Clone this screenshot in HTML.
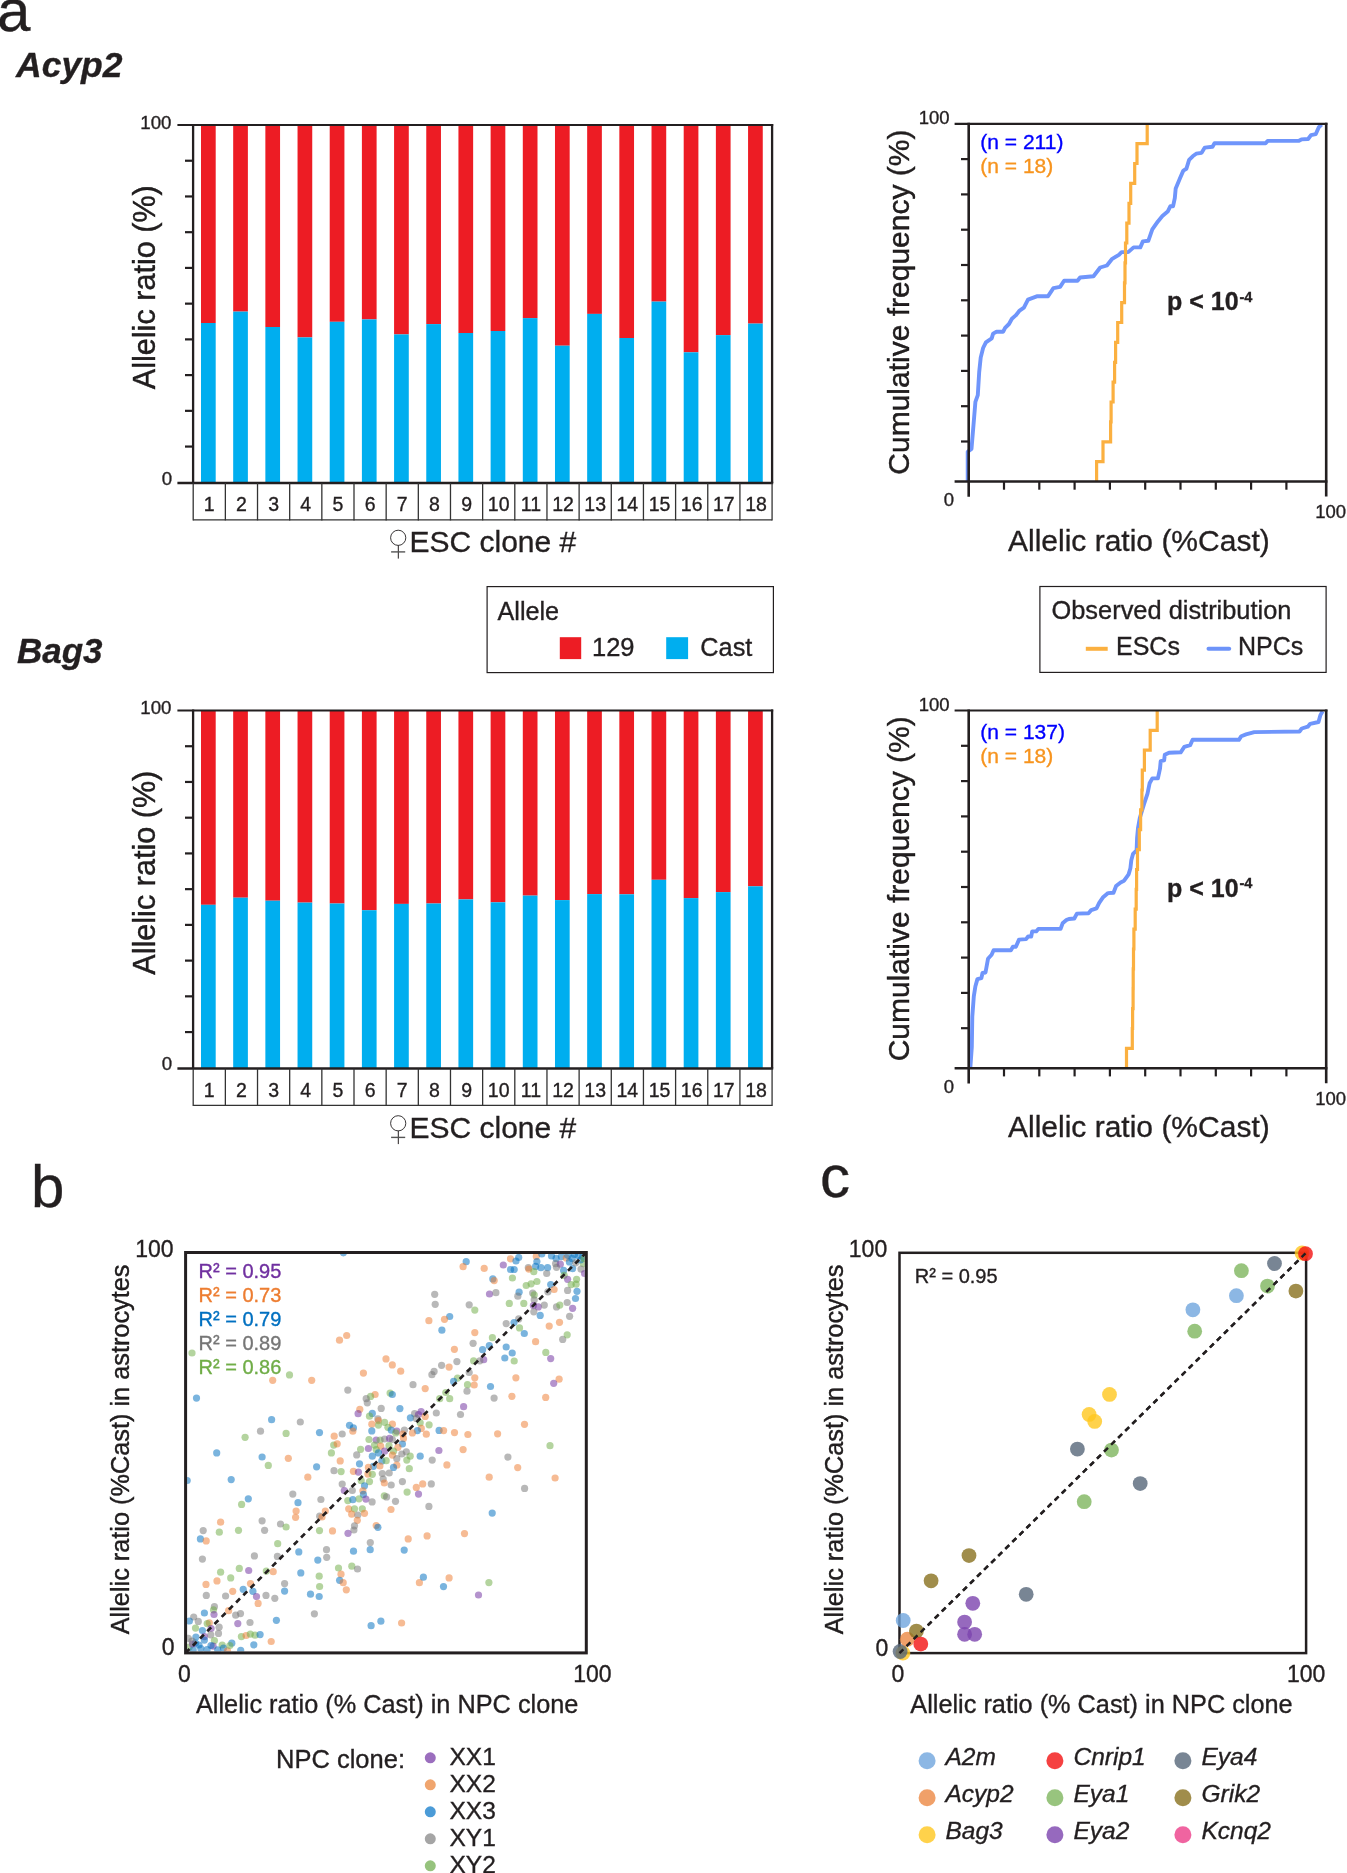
<!DOCTYPE html>
<html><head><meta charset="utf-8"><title>Figure</title>
<style>
html,body{margin:0;padding:0;background:#fff;width:1347px;height:1873px;overflow:hidden;}
svg{display:block;will-change:transform;}
text{font-family:"Liberation Sans", sans-serif;stroke:currentColor;stroke-width:0.35px;}
</style></head>
<body><svg width="1347" height="1873" viewBox="0 0 1347 1873">
<rect width="1347" height="1873" fill="#fff"/>
<text x="-3.00" y="31.00" font-size="60" fill="#231F20" color="#231F20" text-anchor="start" font-weight="normal" font-style="normal" >a</text>
<text x="16.00" y="77.00" font-size="35.5" fill="#231F20" color="#231F20" text-anchor="start" font-weight="bold" font-style="italic" >Acyp2</text>
<text x="17.00" y="662.80" font-size="35" fill="#231F20" color="#231F20" text-anchor="start" font-weight="bold" font-style="italic" >Bag3</text>
<rect x="201.00" y="125.00" width="14.7" height="198.00" fill="#ED1C24"/>
<rect x="201.00" y="323.00" width="14.7" height="160.00" fill="#00AEEF"/>
<rect x="233.18" y="125.00" width="14.7" height="186.60" fill="#ED1C24"/>
<rect x="233.18" y="311.60" width="14.7" height="171.40" fill="#00AEEF"/>
<rect x="265.36" y="125.00" width="14.7" height="202.00" fill="#ED1C24"/>
<rect x="265.36" y="327.00" width="14.7" height="156.00" fill="#00AEEF"/>
<rect x="297.54" y="125.00" width="14.7" height="212.40" fill="#ED1C24"/>
<rect x="297.54" y="337.40" width="14.7" height="145.60" fill="#00AEEF"/>
<rect x="329.72" y="125.00" width="14.7" height="196.80" fill="#ED1C24"/>
<rect x="329.72" y="321.80" width="14.7" height="161.20" fill="#00AEEF"/>
<rect x="361.90" y="125.00" width="14.7" height="194.40" fill="#ED1C24"/>
<rect x="361.90" y="319.40" width="14.7" height="163.60" fill="#00AEEF"/>
<rect x="394.08" y="125.00" width="14.7" height="209.40" fill="#ED1C24"/>
<rect x="394.08" y="334.40" width="14.7" height="148.60" fill="#00AEEF"/>
<rect x="426.26" y="125.00" width="14.7" height="199.10" fill="#ED1C24"/>
<rect x="426.26" y="324.10" width="14.7" height="158.90" fill="#00AEEF"/>
<rect x="458.44" y="125.00" width="14.7" height="208.00" fill="#ED1C24"/>
<rect x="458.44" y="333.00" width="14.7" height="150.00" fill="#00AEEF"/>
<rect x="490.62" y="125.00" width="14.7" height="206.00" fill="#ED1C24"/>
<rect x="490.62" y="331.00" width="14.7" height="152.00" fill="#00AEEF"/>
<rect x="522.80" y="125.00" width="14.7" height="193.10" fill="#ED1C24"/>
<rect x="522.80" y="318.10" width="14.7" height="164.90" fill="#00AEEF"/>
<rect x="554.98" y="125.00" width="14.7" height="220.70" fill="#ED1C24"/>
<rect x="554.98" y="345.70" width="14.7" height="137.30" fill="#00AEEF"/>
<rect x="587.16" y="125.00" width="14.7" height="188.90" fill="#ED1C24"/>
<rect x="587.16" y="313.90" width="14.7" height="169.10" fill="#00AEEF"/>
<rect x="619.34" y="125.00" width="14.7" height="213.00" fill="#ED1C24"/>
<rect x="619.34" y="338.00" width="14.7" height="145.00" fill="#00AEEF"/>
<rect x="651.52" y="125.00" width="14.7" height="176.60" fill="#ED1C24"/>
<rect x="651.52" y="301.60" width="14.7" height="181.40" fill="#00AEEF"/>
<rect x="683.70" y="125.00" width="14.7" height="227.30" fill="#ED1C24"/>
<rect x="683.70" y="352.30" width="14.7" height="130.70" fill="#00AEEF"/>
<rect x="715.88" y="125.00" width="14.7" height="210.10" fill="#ED1C24"/>
<rect x="715.88" y="335.10" width="14.7" height="147.90" fill="#00AEEF"/>
<rect x="748.06" y="125.00" width="14.7" height="198.60" fill="#ED1C24"/>
<rect x="748.06" y="323.60" width="14.7" height="159.40" fill="#00AEEF"/>
<line x1="177.40" y1="125.00" x2="773.20" y2="125.00" stroke="#231F20" stroke-width="2.2" />
<line x1="177.40" y1="483.00" x2="773.20" y2="483.00" stroke="#231F20" stroke-width="2.5" />
<line x1="193.10" y1="123.90" x2="193.10" y2="483.00" stroke="#231F20" stroke-width="2.3" />
<line x1="772.10" y1="123.90" x2="772.10" y2="483.00" stroke="#231F20" stroke-width="2.3" />
<line x1="185.00" y1="160.73" x2="193.10" y2="160.73" stroke="#231F20" stroke-width="2.2" />
<line x1="185.00" y1="196.46" x2="193.10" y2="196.46" stroke="#231F20" stroke-width="2.2" />
<line x1="185.00" y1="232.19" x2="193.10" y2="232.19" stroke="#231F20" stroke-width="2.2" />
<line x1="185.00" y1="267.92" x2="193.10" y2="267.92" stroke="#231F20" stroke-width="2.2" />
<line x1="185.00" y1="303.65" x2="193.10" y2="303.65" stroke="#231F20" stroke-width="2.2" />
<line x1="185.00" y1="339.38" x2="193.10" y2="339.38" stroke="#231F20" stroke-width="2.2" />
<line x1="185.00" y1="375.11" x2="193.10" y2="375.11" stroke="#231F20" stroke-width="2.2" />
<line x1="185.00" y1="410.84" x2="193.10" y2="410.84" stroke="#231F20" stroke-width="2.2" />
<line x1="185.00" y1="446.57" x2="193.10" y2="446.57" stroke="#231F20" stroke-width="2.2" />
<line x1="193.20" y1="519.80" x2="772.10" y2="519.80" stroke="#333" stroke-width="1.3" />
<line x1="193.20" y1="483.00" x2="193.20" y2="520.40" stroke="#333" stroke-width="1.3" />
<line x1="225.36" y1="483.00" x2="225.36" y2="520.40" stroke="#333" stroke-width="1.3" />
<line x1="257.52" y1="483.00" x2="257.52" y2="520.40" stroke="#333" stroke-width="1.3" />
<line x1="289.68" y1="483.00" x2="289.68" y2="520.40" stroke="#333" stroke-width="1.3" />
<line x1="321.84" y1="483.00" x2="321.84" y2="520.40" stroke="#333" stroke-width="1.3" />
<line x1="354.00" y1="483.00" x2="354.00" y2="520.40" stroke="#333" stroke-width="1.3" />
<line x1="386.16" y1="483.00" x2="386.16" y2="520.40" stroke="#333" stroke-width="1.3" />
<line x1="418.32" y1="483.00" x2="418.32" y2="520.40" stroke="#333" stroke-width="1.3" />
<line x1="450.48" y1="483.00" x2="450.48" y2="520.40" stroke="#333" stroke-width="1.3" />
<line x1="482.64" y1="483.00" x2="482.64" y2="520.40" stroke="#333" stroke-width="1.3" />
<line x1="514.80" y1="483.00" x2="514.80" y2="520.40" stroke="#333" stroke-width="1.3" />
<line x1="546.96" y1="483.00" x2="546.96" y2="520.40" stroke="#333" stroke-width="1.3" />
<line x1="579.12" y1="483.00" x2="579.12" y2="520.40" stroke="#333" stroke-width="1.3" />
<line x1="611.28" y1="483.00" x2="611.28" y2="520.40" stroke="#333" stroke-width="1.3" />
<line x1="643.44" y1="483.00" x2="643.44" y2="520.40" stroke="#333" stroke-width="1.3" />
<line x1="675.60" y1="483.00" x2="675.60" y2="520.40" stroke="#333" stroke-width="1.3" />
<line x1="707.76" y1="483.00" x2="707.76" y2="520.40" stroke="#333" stroke-width="1.3" />
<line x1="739.92" y1="483.00" x2="739.92" y2="520.40" stroke="#333" stroke-width="1.3" />
<line x1="772.08" y1="483.00" x2="772.08" y2="520.40" stroke="#333" stroke-width="1.3" />
<text x="209.28" y="511.30" font-size="19.5" fill="#231F20" color="#231F20" text-anchor="middle" font-weight="normal" font-style="normal" >1</text>
<text x="241.44" y="511.30" font-size="19.5" fill="#231F20" color="#231F20" text-anchor="middle" font-weight="normal" font-style="normal" >2</text>
<text x="273.60" y="511.30" font-size="19.5" fill="#231F20" color="#231F20" text-anchor="middle" font-weight="normal" font-style="normal" >3</text>
<text x="305.76" y="511.30" font-size="19.5" fill="#231F20" color="#231F20" text-anchor="middle" font-weight="normal" font-style="normal" >4</text>
<text x="337.92" y="511.30" font-size="19.5" fill="#231F20" color="#231F20" text-anchor="middle" font-weight="normal" font-style="normal" >5</text>
<text x="370.08" y="511.30" font-size="19.5" fill="#231F20" color="#231F20" text-anchor="middle" font-weight="normal" font-style="normal" >6</text>
<text x="402.24" y="511.30" font-size="19.5" fill="#231F20" color="#231F20" text-anchor="middle" font-weight="normal" font-style="normal" >7</text>
<text x="434.40" y="511.30" font-size="19.5" fill="#231F20" color="#231F20" text-anchor="middle" font-weight="normal" font-style="normal" >8</text>
<text x="466.56" y="511.30" font-size="19.5" fill="#231F20" color="#231F20" text-anchor="middle" font-weight="normal" font-style="normal" >9</text>
<text x="498.72" y="511.30" font-size="19.5" fill="#231F20" color="#231F20" text-anchor="middle" font-weight="normal" font-style="normal" >10</text>
<text x="530.88" y="511.30" font-size="19.5" fill="#231F20" color="#231F20" text-anchor="middle" font-weight="normal" font-style="normal" >11</text>
<text x="563.04" y="511.30" font-size="19.5" fill="#231F20" color="#231F20" text-anchor="middle" font-weight="normal" font-style="normal" >12</text>
<text x="595.20" y="511.30" font-size="19.5" fill="#231F20" color="#231F20" text-anchor="middle" font-weight="normal" font-style="normal" >13</text>
<text x="627.36" y="511.30" font-size="19.5" fill="#231F20" color="#231F20" text-anchor="middle" font-weight="normal" font-style="normal" >14</text>
<text x="659.52" y="511.30" font-size="19.5" fill="#231F20" color="#231F20" text-anchor="middle" font-weight="normal" font-style="normal" >15</text>
<text x="691.68" y="511.30" font-size="19.5" fill="#231F20" color="#231F20" text-anchor="middle" font-weight="normal" font-style="normal" >16</text>
<text x="723.84" y="511.30" font-size="19.5" fill="#231F20" color="#231F20" text-anchor="middle" font-weight="normal" font-style="normal" >17</text>
<text x="756.00" y="511.30" font-size="19.5" fill="#231F20" color="#231F20" text-anchor="middle" font-weight="normal" font-style="normal" >18</text>
<text x="171.50" y="128.60" font-size="18.7" fill="#231F20" color="#231F20" text-anchor="end" font-weight="normal" font-style="normal" >100</text>
<text x="172.20" y="484.60" font-size="18.7" fill="#231F20" color="#231F20" text-anchor="end" font-weight="normal" font-style="normal" >0</text>
<text transform="translate(155,287.20) rotate(-90)" x="0" y="0" font-size="30.6" fill="#231F20" text-anchor="middle">Allelic ratio (%)</text>
<circle cx="398.2" cy="537.80" r="7.6" fill="none" stroke="#231F20" stroke-width="0.9"/>
<line x1="398.30" y1="545.30" x2="398.30" y2="558.60" stroke="#231F20" stroke-width="1.0" />
<line x1="391.10" y1="551.90" x2="405.20" y2="551.90" stroke="#555" stroke-width="1.4" />
<text x="409.50" y="552.30" font-size="30" fill="#231F20" color="#231F20" text-anchor="start" font-weight="normal" font-style="normal" >ESC clone #</text>
<rect x="201.00" y="710.50" width="14.7" height="194.30" fill="#ED1C24"/>
<rect x="201.00" y="904.80" width="14.7" height="163.70" fill="#00AEEF"/>
<rect x="233.18" y="710.50" width="14.7" height="187.20" fill="#ED1C24"/>
<rect x="233.18" y="897.70" width="14.7" height="170.80" fill="#00AEEF"/>
<rect x="265.36" y="710.50" width="14.7" height="190.20" fill="#ED1C24"/>
<rect x="265.36" y="900.70" width="14.7" height="167.80" fill="#00AEEF"/>
<rect x="297.54" y="710.50" width="14.7" height="192.10" fill="#ED1C24"/>
<rect x="297.54" y="902.60" width="14.7" height="165.90" fill="#00AEEF"/>
<rect x="329.72" y="710.50" width="14.7" height="193.00" fill="#ED1C24"/>
<rect x="329.72" y="903.50" width="14.7" height="165.00" fill="#00AEEF"/>
<rect x="361.90" y="710.50" width="14.7" height="199.70" fill="#ED1C24"/>
<rect x="361.90" y="910.20" width="14.7" height="158.30" fill="#00AEEF"/>
<rect x="394.08" y="710.50" width="14.7" height="193.40" fill="#ED1C24"/>
<rect x="394.08" y="903.90" width="14.7" height="164.60" fill="#00AEEF"/>
<rect x="426.26" y="710.50" width="14.7" height="193.00" fill="#ED1C24"/>
<rect x="426.26" y="903.50" width="14.7" height="165.00" fill="#00AEEF"/>
<rect x="458.44" y="710.50" width="14.7" height="188.90" fill="#ED1C24"/>
<rect x="458.44" y="899.40" width="14.7" height="169.10" fill="#00AEEF"/>
<rect x="490.62" y="710.50" width="14.7" height="191.80" fill="#ED1C24"/>
<rect x="490.62" y="902.30" width="14.7" height="166.20" fill="#00AEEF"/>
<rect x="522.80" y="710.50" width="14.7" height="185.10" fill="#ED1C24"/>
<rect x="522.80" y="895.60" width="14.7" height="172.90" fill="#00AEEF"/>
<rect x="554.98" y="710.50" width="14.7" height="189.60" fill="#ED1C24"/>
<rect x="554.98" y="900.10" width="14.7" height="168.40" fill="#00AEEF"/>
<rect x="587.16" y="710.50" width="14.7" height="183.60" fill="#ED1C24"/>
<rect x="587.16" y="894.10" width="14.7" height="174.40" fill="#00AEEF"/>
<rect x="619.34" y="710.50" width="14.7" height="183.80" fill="#ED1C24"/>
<rect x="619.34" y="894.30" width="14.7" height="174.20" fill="#00AEEF"/>
<rect x="651.52" y="710.50" width="14.7" height="169.30" fill="#ED1C24"/>
<rect x="651.52" y="879.80" width="14.7" height="188.70" fill="#00AEEF"/>
<rect x="683.70" y="710.50" width="14.7" height="187.60" fill="#ED1C24"/>
<rect x="683.70" y="898.10" width="14.7" height="170.40" fill="#00AEEF"/>
<rect x="715.88" y="710.50" width="14.7" height="181.60" fill="#ED1C24"/>
<rect x="715.88" y="892.10" width="14.7" height="176.40" fill="#00AEEF"/>
<rect x="748.06" y="710.50" width="14.7" height="175.80" fill="#ED1C24"/>
<rect x="748.06" y="886.30" width="14.7" height="182.20" fill="#00AEEF"/>
<line x1="177.40" y1="710.50" x2="773.20" y2="710.50" stroke="#231F20" stroke-width="2.2" />
<line x1="177.40" y1="1068.50" x2="773.20" y2="1068.50" stroke="#231F20" stroke-width="2.5" />
<line x1="193.10" y1="709.40" x2="193.10" y2="1068.50" stroke="#231F20" stroke-width="2.3" />
<line x1="772.10" y1="709.40" x2="772.10" y2="1068.50" stroke="#231F20" stroke-width="2.3" />
<line x1="185.00" y1="746.23" x2="193.10" y2="746.23" stroke="#231F20" stroke-width="2.2" />
<line x1="185.00" y1="781.96" x2="193.10" y2="781.96" stroke="#231F20" stroke-width="2.2" />
<line x1="185.00" y1="817.69" x2="193.10" y2="817.69" stroke="#231F20" stroke-width="2.2" />
<line x1="185.00" y1="853.42" x2="193.10" y2="853.42" stroke="#231F20" stroke-width="2.2" />
<line x1="185.00" y1="889.15" x2="193.10" y2="889.15" stroke="#231F20" stroke-width="2.2" />
<line x1="185.00" y1="924.88" x2="193.10" y2="924.88" stroke="#231F20" stroke-width="2.2" />
<line x1="185.00" y1="960.61" x2="193.10" y2="960.61" stroke="#231F20" stroke-width="2.2" />
<line x1="185.00" y1="996.34" x2="193.10" y2="996.34" stroke="#231F20" stroke-width="2.2" />
<line x1="185.00" y1="1032.07" x2="193.10" y2="1032.07" stroke="#231F20" stroke-width="2.2" />
<line x1="193.20" y1="1105.30" x2="772.10" y2="1105.30" stroke="#333" stroke-width="1.3" />
<line x1="193.20" y1="1068.50" x2="193.20" y2="1105.90" stroke="#333" stroke-width="1.3" />
<line x1="225.36" y1="1068.50" x2="225.36" y2="1105.90" stroke="#333" stroke-width="1.3" />
<line x1="257.52" y1="1068.50" x2="257.52" y2="1105.90" stroke="#333" stroke-width="1.3" />
<line x1="289.68" y1="1068.50" x2="289.68" y2="1105.90" stroke="#333" stroke-width="1.3" />
<line x1="321.84" y1="1068.50" x2="321.84" y2="1105.90" stroke="#333" stroke-width="1.3" />
<line x1="354.00" y1="1068.50" x2="354.00" y2="1105.90" stroke="#333" stroke-width="1.3" />
<line x1="386.16" y1="1068.50" x2="386.16" y2="1105.90" stroke="#333" stroke-width="1.3" />
<line x1="418.32" y1="1068.50" x2="418.32" y2="1105.90" stroke="#333" stroke-width="1.3" />
<line x1="450.48" y1="1068.50" x2="450.48" y2="1105.90" stroke="#333" stroke-width="1.3" />
<line x1="482.64" y1="1068.50" x2="482.64" y2="1105.90" stroke="#333" stroke-width="1.3" />
<line x1="514.80" y1="1068.50" x2="514.80" y2="1105.90" stroke="#333" stroke-width="1.3" />
<line x1="546.96" y1="1068.50" x2="546.96" y2="1105.90" stroke="#333" stroke-width="1.3" />
<line x1="579.12" y1="1068.50" x2="579.12" y2="1105.90" stroke="#333" stroke-width="1.3" />
<line x1="611.28" y1="1068.50" x2="611.28" y2="1105.90" stroke="#333" stroke-width="1.3" />
<line x1="643.44" y1="1068.50" x2="643.44" y2="1105.90" stroke="#333" stroke-width="1.3" />
<line x1="675.60" y1="1068.50" x2="675.60" y2="1105.90" stroke="#333" stroke-width="1.3" />
<line x1="707.76" y1="1068.50" x2="707.76" y2="1105.90" stroke="#333" stroke-width="1.3" />
<line x1="739.92" y1="1068.50" x2="739.92" y2="1105.90" stroke="#333" stroke-width="1.3" />
<line x1="772.08" y1="1068.50" x2="772.08" y2="1105.90" stroke="#333" stroke-width="1.3" />
<text x="209.28" y="1096.80" font-size="19.5" fill="#231F20" color="#231F20" text-anchor="middle" font-weight="normal" font-style="normal" >1</text>
<text x="241.44" y="1096.80" font-size="19.5" fill="#231F20" color="#231F20" text-anchor="middle" font-weight="normal" font-style="normal" >2</text>
<text x="273.60" y="1096.80" font-size="19.5" fill="#231F20" color="#231F20" text-anchor="middle" font-weight="normal" font-style="normal" >3</text>
<text x="305.76" y="1096.80" font-size="19.5" fill="#231F20" color="#231F20" text-anchor="middle" font-weight="normal" font-style="normal" >4</text>
<text x="337.92" y="1096.80" font-size="19.5" fill="#231F20" color="#231F20" text-anchor="middle" font-weight="normal" font-style="normal" >5</text>
<text x="370.08" y="1096.80" font-size="19.5" fill="#231F20" color="#231F20" text-anchor="middle" font-weight="normal" font-style="normal" >6</text>
<text x="402.24" y="1096.80" font-size="19.5" fill="#231F20" color="#231F20" text-anchor="middle" font-weight="normal" font-style="normal" >7</text>
<text x="434.40" y="1096.80" font-size="19.5" fill="#231F20" color="#231F20" text-anchor="middle" font-weight="normal" font-style="normal" >8</text>
<text x="466.56" y="1096.80" font-size="19.5" fill="#231F20" color="#231F20" text-anchor="middle" font-weight="normal" font-style="normal" >9</text>
<text x="498.72" y="1096.80" font-size="19.5" fill="#231F20" color="#231F20" text-anchor="middle" font-weight="normal" font-style="normal" >10</text>
<text x="530.88" y="1096.80" font-size="19.5" fill="#231F20" color="#231F20" text-anchor="middle" font-weight="normal" font-style="normal" >11</text>
<text x="563.04" y="1096.80" font-size="19.5" fill="#231F20" color="#231F20" text-anchor="middle" font-weight="normal" font-style="normal" >12</text>
<text x="595.20" y="1096.80" font-size="19.5" fill="#231F20" color="#231F20" text-anchor="middle" font-weight="normal" font-style="normal" >13</text>
<text x="627.36" y="1096.80" font-size="19.5" fill="#231F20" color="#231F20" text-anchor="middle" font-weight="normal" font-style="normal" >14</text>
<text x="659.52" y="1096.80" font-size="19.5" fill="#231F20" color="#231F20" text-anchor="middle" font-weight="normal" font-style="normal" >15</text>
<text x="691.68" y="1096.80" font-size="19.5" fill="#231F20" color="#231F20" text-anchor="middle" font-weight="normal" font-style="normal" >16</text>
<text x="723.84" y="1096.80" font-size="19.5" fill="#231F20" color="#231F20" text-anchor="middle" font-weight="normal" font-style="normal" >17</text>
<text x="756.00" y="1096.80" font-size="19.5" fill="#231F20" color="#231F20" text-anchor="middle" font-weight="normal" font-style="normal" >18</text>
<text x="171.50" y="714.10" font-size="18.7" fill="#231F20" color="#231F20" text-anchor="end" font-weight="normal" font-style="normal" >100</text>
<text x="172.20" y="1070.10" font-size="18.7" fill="#231F20" color="#231F20" text-anchor="end" font-weight="normal" font-style="normal" >0</text>
<text transform="translate(155,872.70) rotate(-90)" x="0" y="0" font-size="30.6" fill="#231F20" text-anchor="middle">Allelic ratio (%)</text>
<circle cx="398.2" cy="1123.30" r="7.6" fill="none" stroke="#231F20" stroke-width="0.9"/>
<line x1="398.30" y1="1130.80" x2="398.30" y2="1144.10" stroke="#231F20" stroke-width="1.0" />
<line x1="391.10" y1="1137.40" x2="405.20" y2="1137.40" stroke="#555" stroke-width="1.4" />
<text x="409.50" y="1137.80" font-size="30" fill="#231F20" color="#231F20" text-anchor="start" font-weight="normal" font-style="normal" >ESC clone #</text>
<rect x="487.1" y="586.6" width="286.3" height="86" fill="none" stroke="#231F20" stroke-width="1.2"/>
<text x="497.50" y="619.90" font-size="25.2" fill="#231F20" color="#231F20" text-anchor="start" font-weight="normal" font-style="normal" >Allele</text>
<rect x="559.8" y="637.2" width="21.4" height="21.9" fill="#ED1C24"/>
<text x="592.00" y="655.50" font-size="25.5" fill="#231F20" color="#231F20" text-anchor="start" font-weight="normal" font-style="normal" >129</text>
<rect x="666.2" y="637.2" width="21.9" height="21.9" fill="#00AEEF"/>
<text x="700.30" y="655.50" font-size="25.3" fill="#231F20" color="#231F20" text-anchor="start" font-weight="normal" font-style="normal" >Cast</text>
<rect x="1039.9" y="586.5" width="286.2" height="85.9" fill="none" stroke="#231F20" stroke-width="1.2"/>
<text x="1051.50" y="619.40" font-size="25.4" fill="#231F20" color="#231F20" text-anchor="start" font-weight="normal" font-style="normal" >Observed distribution</text>
<line x1="1085.80" y1="648.80" x2="1107.70" y2="648.80" stroke="#FBB040" stroke-width="4" />
<text x="1116.00" y="654.70" font-size="25" fill="#231F20" color="#231F20" text-anchor="start" font-weight="normal" font-style="normal" >ESCs</text>
<line x1="1208.50" y1="648.80" x2="1229.20" y2="648.80" stroke="#6D93F9" stroke-width="4" stroke-linecap="round"/>
<text x="1238.00" y="654.70" font-size="25" fill="#231F20" color="#231F20" text-anchor="start" font-weight="normal" font-style="normal" >NPCs</text>
<polyline points="967.7,481.5 967.7,451.8 971.5,448.9 973.9,420.1 975.4,401.8 977.8,395.1 979.2,372.0 980.7,357.6 983.1,348.0 985.9,342.3 991.7,338.4 993.1,333.6 996.5,331.7 1003.2,331.7 1005.1,327.9 1009.0,324.0 1011.9,318.7 1015.7,315.4 1019.6,310.6 1023.9,307.7 1028.0,299.6 1037.4,296.2 1048.1,296.2 1053.4,288.2 1060.1,286.9 1064.1,280.8 1077.5,280.8 1080.1,277.5 1093.5,276.2 1100.2,267.5 1106.9,265.5 1112.2,258.8 1118.9,254.8 1121.6,252.1 1128.2,252.1 1133.6,247.4 1140.3,247.4 1142.9,241.4 1148.3,240.8 1152.3,229.4 1157.9,221.4 1162.4,216.0 1167.7,211.6 1170.4,206.2 1173.1,206.2 1174.8,198.2 1175.7,188.4 1180.2,177.7 1183.3,170.6 1186.4,168.8 1189.1,159.9 1192.7,156.3 1196.2,153.7 1201.6,152.8 1204.8,147.6 1212.5,146.7 1214.5,143.3 1265.6,143.3 1267.6,140.9 1298.5,140.9 1301.4,139.4 1308.1,139.0 1311.0,135.1 1315.8,134.1 1318.7,127.4 1321.6,124.5" fill="none" stroke="#6F95FB" stroke-width="3.9" stroke-linejoin="round"/>
<polyline points="1096.6,481.5 1096.6,461.6 1103.0,461.6 1103.0,441.8 1110.6,441.8 1110.6,421.9 1111.1,421.9 1111.1,402.0 1113.1,402.0 1113.1,382.1 1114.6,382.1 1114.6,362.3 1115.6,362.3 1115.6,342.4 1117.7,342.4 1117.7,322.5 1121.7,322.5 1121.7,302.7 1124.5,302.7 1124.5,282.8 1125.0,282.8 1125.0,262.9 1125.5,262.9 1125.5,243.0 1126.8,243.0 1126.8,223.2 1129.0,223.2 1129.0,203.3 1130.7,203.3 1130.7,183.4 1134.7,183.4 1134.7,163.5 1137.0,163.5 1137.0,143.7 1147.2,143.7 1147.2,123.8" fill="none" stroke="#FBB040" stroke-width="3.2" stroke-linejoin="miter"/>
<line x1="954.60" y1="123.80" x2="1327.40" y2="123.80" stroke="#231F20" stroke-width="2.2" />
<line x1="954.60" y1="481.50" x2="1327.40" y2="481.50" stroke="#231F20" stroke-width="2.5" />
<line x1="968.70" y1="122.70" x2="968.70" y2="496.80" stroke="#231F20" stroke-width="2.6" />
<line x1="1326.20" y1="122.70" x2="1326.20" y2="496.60" stroke="#231F20" stroke-width="2.6" />
<line x1="961.00" y1="159.10" x2="968.70" y2="159.10" stroke="#231F20" stroke-width="2.2" />
<line x1="1004.00" y1="481.50" x2="1004.00" y2="489.70" stroke="#231F20" stroke-width="2.2" />
<line x1="961.00" y1="194.40" x2="968.70" y2="194.40" stroke="#231F20" stroke-width="2.2" />
<line x1="1039.30" y1="481.50" x2="1039.30" y2="489.70" stroke="#231F20" stroke-width="2.2" />
<line x1="961.00" y1="229.70" x2="968.70" y2="229.70" stroke="#231F20" stroke-width="2.2" />
<line x1="1074.60" y1="481.50" x2="1074.60" y2="489.70" stroke="#231F20" stroke-width="2.2" />
<line x1="961.00" y1="265.00" x2="968.70" y2="265.00" stroke="#231F20" stroke-width="2.2" />
<line x1="1109.90" y1="481.50" x2="1109.90" y2="489.70" stroke="#231F20" stroke-width="2.2" />
<line x1="961.00" y1="300.30" x2="968.70" y2="300.30" stroke="#231F20" stroke-width="2.2" />
<line x1="1145.20" y1="481.50" x2="1145.20" y2="489.70" stroke="#231F20" stroke-width="2.2" />
<line x1="961.00" y1="335.60" x2="968.70" y2="335.60" stroke="#231F20" stroke-width="2.2" />
<line x1="1180.50" y1="481.50" x2="1180.50" y2="489.70" stroke="#231F20" stroke-width="2.2" />
<line x1="961.00" y1="370.90" x2="968.70" y2="370.90" stroke="#231F20" stroke-width="2.2" />
<line x1="1215.80" y1="481.50" x2="1215.80" y2="489.70" stroke="#231F20" stroke-width="2.2" />
<line x1="961.00" y1="406.20" x2="968.70" y2="406.20" stroke="#231F20" stroke-width="2.2" />
<line x1="1251.10" y1="481.50" x2="1251.10" y2="489.70" stroke="#231F20" stroke-width="2.2" />
<line x1="961.00" y1="441.50" x2="968.70" y2="441.50" stroke="#231F20" stroke-width="2.2" />
<line x1="1286.40" y1="481.50" x2="1286.40" y2="489.70" stroke="#231F20" stroke-width="2.2" />
<text x="949.50" y="123.80" font-size="18.5" fill="#231F20" color="#231F20" text-anchor="end" font-weight="normal" font-style="normal" >100</text>
<text x="954.00" y="506.30" font-size="18.5" fill="#231F20" color="#231F20" text-anchor="end" font-weight="normal" font-style="normal" >0</text>
<text x="1315.30" y="518.30" font-size="18.5" fill="#231F20" color="#231F20" text-anchor="start" font-weight="normal" font-style="normal" >100</text>
<text x="1008.00" y="550.60" font-size="30" fill="#231F20" color="#231F20" text-anchor="start" font-weight="normal" font-style="normal" >Allelic ratio (%Cast)</text>
<text transform="translate(908.5,302.10) rotate(-90)" x="0" y="0" font-size="30" fill="#231F20" text-anchor="middle">Cumulative frequency (%)</text>
<text x="980.30" y="148.90" font-size="21" fill="#0000FF" color="#0000FF" text-anchor="start" font-weight="normal" font-style="normal" >(n = 211)</text>
<text x="980.30" y="172.90" font-size="21" fill="#F7941E" color="#F7941E" text-anchor="start" font-weight="normal" font-style="normal" >(n = 18)</text>
<text x="1167.00" y="310.10" font-size="25" fill="#231F20" color="#231F20" text-anchor="start" font-weight="bold" font-style="normal" >p &lt; 10</text>
<text x="1239.50" y="301.60" font-size="14.5" fill="#231F20" color="#231F20" text-anchor="start" font-weight="bold" font-style="normal" >-4</text>
<polyline points="970.3,1068.2 971.8,1047.1 972.3,1016.7 973.8,996.4 975.4,986.2 977.4,979.1 981.4,978.1 982.5,973.0 985.5,972.5 988.0,958.8 991.6,954.8 993.6,950.2 1010.9,950.2 1012.9,946.7 1015.9,946.7 1019.0,939.6 1026.1,939.1 1028.1,936.5 1031.2,936.5 1032.2,931.4 1036.2,931.4 1038.3,928.9 1060.6,928.9 1062.6,923.3 1066.7,919.8 1068.9,919.0 1074.3,918.5 1076.9,913.6 1088.5,913.2 1091.2,910.1 1096.5,908.3 1099.2,902.9 1102.8,897.6 1108.1,893.1 1113.5,892.7 1116.1,886.0 1120.6,882.4 1124.1,880.7 1128.6,874.4 1130.4,868.2 1131.3,860.2 1133.0,853.9 1136.6,850.4 1137.1,837.9 1138.0,828.1 1139.8,818.0 1144.0,804.1 1147.5,793.7 1149.6,783.3 1152.3,778.4 1157.9,778.4 1160.0,768.7 1160.7,761.1 1164.1,760.4 1164.8,754.8 1169.0,752.7 1180.7,752.3 1184.3,746.9 1190.2,745.1 1192.6,739.8 1238.9,739.8 1241.3,736.2 1246.0,734.4 1254.3,732.1 1299.5,731.5 1301.8,728.5 1307.8,726.7 1310.2,723.8 1318.5,722.0 1320.3,715.4 1322.6,711.3" fill="none" stroke="#6F95FB" stroke-width="3.9" stroke-linejoin="round"/>
<polyline points="1126.5,1068.2 1126.5,1048.3 1132.3,1048.3 1132.3,1028.5 1132.6,1028.5 1132.6,1008.6 1133.1,1008.6 1133.1,988.7 1133.2,988.7 1133.2,968.8 1133.5,968.8 1133.5,949.0 1133.9,949.0 1133.9,929.1 1135.2,929.1 1135.2,909.2 1136.2,909.2 1136.2,889.4 1136.6,889.4 1136.6,869.5 1137.5,869.5 1137.5,849.6 1139.3,849.6 1139.3,829.7 1140.6,829.7 1140.6,809.9 1141.9,809.9 1141.9,790.0 1142.3,790.0 1142.3,770.1 1144.4,770.1 1144.4,750.2 1150.2,750.2 1150.2,730.4 1157.2,730.4 1157.2,710.5" fill="none" stroke="#FBB040" stroke-width="3.2" stroke-linejoin="miter"/>
<line x1="954.60" y1="710.50" x2="1327.40" y2="710.50" stroke="#231F20" stroke-width="2.2" />
<line x1="954.60" y1="1068.20" x2="1327.40" y2="1068.20" stroke="#231F20" stroke-width="2.5" />
<line x1="968.70" y1="709.40" x2="968.70" y2="1083.50" stroke="#231F20" stroke-width="2.6" />
<line x1="1326.20" y1="709.40" x2="1326.20" y2="1083.30" stroke="#231F20" stroke-width="2.6" />
<line x1="961.00" y1="745.80" x2="968.70" y2="745.80" stroke="#231F20" stroke-width="2.2" />
<line x1="1004.00" y1="1068.20" x2="1004.00" y2="1076.40" stroke="#231F20" stroke-width="2.2" />
<line x1="961.00" y1="781.10" x2="968.70" y2="781.10" stroke="#231F20" stroke-width="2.2" />
<line x1="1039.30" y1="1068.20" x2="1039.30" y2="1076.40" stroke="#231F20" stroke-width="2.2" />
<line x1="961.00" y1="816.40" x2="968.70" y2="816.40" stroke="#231F20" stroke-width="2.2" />
<line x1="1074.60" y1="1068.20" x2="1074.60" y2="1076.40" stroke="#231F20" stroke-width="2.2" />
<line x1="961.00" y1="851.70" x2="968.70" y2="851.70" stroke="#231F20" stroke-width="2.2" />
<line x1="1109.90" y1="1068.20" x2="1109.90" y2="1076.40" stroke="#231F20" stroke-width="2.2" />
<line x1="961.00" y1="887.00" x2="968.70" y2="887.00" stroke="#231F20" stroke-width="2.2" />
<line x1="1145.20" y1="1068.20" x2="1145.20" y2="1076.40" stroke="#231F20" stroke-width="2.2" />
<line x1="961.00" y1="922.30" x2="968.70" y2="922.30" stroke="#231F20" stroke-width="2.2" />
<line x1="1180.50" y1="1068.20" x2="1180.50" y2="1076.40" stroke="#231F20" stroke-width="2.2" />
<line x1="961.00" y1="957.60" x2="968.70" y2="957.60" stroke="#231F20" stroke-width="2.2" />
<line x1="1215.80" y1="1068.20" x2="1215.80" y2="1076.40" stroke="#231F20" stroke-width="2.2" />
<line x1="961.00" y1="992.90" x2="968.70" y2="992.90" stroke="#231F20" stroke-width="2.2" />
<line x1="1251.10" y1="1068.20" x2="1251.10" y2="1076.40" stroke="#231F20" stroke-width="2.2" />
<line x1="961.00" y1="1028.20" x2="968.70" y2="1028.20" stroke="#231F20" stroke-width="2.2" />
<line x1="1286.40" y1="1068.20" x2="1286.40" y2="1076.40" stroke="#231F20" stroke-width="2.2" />
<text x="949.50" y="710.50" font-size="18.5" fill="#231F20" color="#231F20" text-anchor="end" font-weight="normal" font-style="normal" >100</text>
<text x="954.00" y="1093.00" font-size="18.5" fill="#231F20" color="#231F20" text-anchor="end" font-weight="normal" font-style="normal" >0</text>
<text x="1315.30" y="1105.00" font-size="18.5" fill="#231F20" color="#231F20" text-anchor="start" font-weight="normal" font-style="normal" >100</text>
<text x="1008.00" y="1137.30" font-size="30" fill="#231F20" color="#231F20" text-anchor="start" font-weight="normal" font-style="normal" >Allelic ratio (%Cast)</text>
<text transform="translate(908.5,888.80) rotate(-90)" x="0" y="0" font-size="30" fill="#231F20" text-anchor="middle">Cumulative frequency (%)</text>
<text x="980.30" y="738.90" font-size="21" fill="#0000FF" color="#0000FF" text-anchor="start" font-weight="normal" font-style="normal" >(n = 137)</text>
<text x="980.30" y="762.90" font-size="21" fill="#F7941E" color="#F7941E" text-anchor="start" font-weight="normal" font-style="normal" >(n = 18)</text>
<text x="1167.00" y="896.80" font-size="25" fill="#231F20" color="#231F20" text-anchor="start" font-weight="bold" font-style="normal" >p &lt; 10</text>
<text x="1239.50" y="888.30" font-size="14.5" fill="#231F20" color="#231F20" text-anchor="start" font-weight="bold" font-style="normal" >-4</text>
<text x="31.00" y="1207.00" font-size="60" fill="#231F20" color="#231F20" text-anchor="start" font-weight="normal" font-style="normal" >b</text>
<clipPath id="bclip"><rect x="187.1" y="1254.0" width="397.70" height="397.40"/></clipPath>
<g clip-path="url(#bclip)">
<g fill-opacity="0.52">
<circle cx="192.0" cy="1353.0" r="3.6" fill="#70AD47"/>
<circle cx="289.5" cy="1374.9" r="3.6" fill="#70AD47"/>
<circle cx="272.7" cy="1380.3" r="3.6" fill="#ED7D31"/>
<circle cx="311.7" cy="1380.3" r="3.6" fill="#ED7D31"/>
<circle cx="196.5" cy="1398.1" r="3.6" fill="#0070C0"/>
<circle cx="343.4" cy="1252.8" r="3.6" fill="#0070C0"/>
<circle cx="466.2" cy="1261.7" r="3.6" fill="#0070C0"/>
<circle cx="463.1" cy="1266.7" r="3.6" fill="#ED7D31"/>
<circle cx="484.2" cy="1268.4" r="3.6" fill="#ED7D31"/>
<circle cx="434.7" cy="1294.3" r="3.6" fill="#767676"/>
<circle cx="435.2" cy="1304.3" r="3.6" fill="#767676"/>
<circle cx="469.2" cy="1304.8" r="3.6" fill="#767676"/>
<circle cx="474.8" cy="1310.1" r="3.6" fill="#70AD47"/>
<circle cx="449.7" cy="1316.5" r="3.6" fill="#0070C0"/>
<circle cx="444.5" cy="1319.3" r="3.6" fill="#ED7D31"/>
<circle cx="428.9" cy="1320.7" r="3.6" fill="#ED7D31"/>
<circle cx="441.9" cy="1330.2" r="3.6" fill="#0070C0"/>
<circle cx="474.8" cy="1332.6" r="3.6" fill="#ED7D31"/>
<circle cx="346.7" cy="1335.5" r="3.6" fill="#ED7D31"/>
<circle cx="339.5" cy="1340.2" r="3.6" fill="#ED7D31"/>
<circle cx="473.1" cy="1343.3" r="3.6" fill="#767676"/>
<circle cx="454.4" cy="1349.3" r="3.6" fill="#ED7D31"/>
<circle cx="482.6" cy="1349.7" r="3.6" fill="#0070C0"/>
<circle cx="386.0" cy="1358.9" r="3.6" fill="#ED7D31"/>
<circle cx="483.7" cy="1359.7" r="3.6" fill="#7030A0"/>
<circle cx="473.6" cy="1360.8" r="3.6" fill="#70AD47"/>
<circle cx="479.8" cy="1360.8" r="3.6" fill="#767676"/>
<circle cx="456.9" cy="1361.6" r="3.6" fill="#767676"/>
<circle cx="392.3" cy="1364.9" r="3.6" fill="#ED7D31"/>
<circle cx="441.6" cy="1365.3" r="3.6" fill="#767676"/>
<circle cx="449.1" cy="1367.1" r="3.6" fill="#ED7D31"/>
<circle cx="400.7" cy="1371.2" r="3.6" fill="#ED7D31"/>
<circle cx="434.1" cy="1371.4" r="3.6" fill="#767676"/>
<circle cx="363.4" cy="1373.1" r="3.6" fill="#ED7D31"/>
<circle cx="469.2" cy="1372.5" r="3.6" fill="#767676"/>
<circle cx="431.9" cy="1374.7" r="3.6" fill="#767676"/>
<circle cx="474.8" cy="1377.8" r="3.6" fill="#ED7D31"/>
<circle cx="457.5" cy="1378.1" r="3.6" fill="#70AD47"/>
<circle cx="453.6" cy="1381.4" r="3.6" fill="#0070C0"/>
<circle cx="467.5" cy="1384.7" r="3.6" fill="#70AD47"/>
<circle cx="474.2" cy="1385.0" r="3.6" fill="#ED7D31"/>
<circle cx="413.0" cy="1384.7" r="3.6" fill="#767676"/>
<circle cx="425.2" cy="1388.6" r="3.6" fill="#ED7D31"/>
<circle cx="347.8" cy="1390.1" r="3.6" fill="#767676"/>
<circle cx="467.0" cy="1391.2" r="3.6" fill="#767676"/>
<circle cx="445.8" cy="1392.5" r="3.6" fill="#70AD47"/>
<circle cx="390.1" cy="1393.1" r="3.6" fill="#70AD47"/>
<circle cx="392.3" cy="1394.5" r="3.6" fill="#0070C0"/>
<circle cx="375.1" cy="1394.5" r="3.6" fill="#ED7D31"/>
<circle cx="370.6" cy="1396.4" r="3.6" fill="#70AD47"/>
<circle cx="366.2" cy="1398.7" r="3.6" fill="#767676"/>
<circle cx="439.7" cy="1398.7" r="3.6" fill="#70AD47"/>
<circle cx="449.7" cy="1398.7" r="3.6" fill="#70AD47"/>
<circle cx="510.5" cy="1258.8" r="3.6" fill="#ED7D31"/>
<circle cx="518.7" cy="1257.5" r="3.6" fill="#0070C0"/>
<circle cx="516.0" cy="1261.0" r="3.6" fill="#0070C0"/>
<circle cx="503.3" cy="1265.0" r="3.6" fill="#7030A0"/>
<circle cx="510.6" cy="1269.5" r="3.6" fill="#0070C0"/>
<circle cx="514.2" cy="1269.5" r="3.6" fill="#0070C0"/>
<circle cx="536.3" cy="1256.4" r="3.6" fill="#ED7D31"/>
<circle cx="541.8" cy="1253.9" r="3.6" fill="#0070C0"/>
<circle cx="536.9" cy="1261.5" r="3.6" fill="#0070C0"/>
<circle cx="528.3" cy="1267.7" r="3.6" fill="#767676"/>
<circle cx="528.9" cy="1269.1" r="3.6" fill="#ED7D31"/>
<circle cx="535.6" cy="1266.4" r="3.6" fill="#0070C0"/>
<circle cx="540.9" cy="1267.7" r="3.6" fill="#0070C0"/>
<circle cx="547.6" cy="1267.7" r="3.6" fill="#0070C0"/>
<circle cx="533.8" cy="1271.7" r="3.6" fill="#70AD47"/>
<circle cx="546.7" cy="1273.5" r="3.6" fill="#767676"/>
<circle cx="556.1" cy="1258.4" r="3.6" fill="#0070C0"/>
<circle cx="561.4" cy="1256.6" r="3.6" fill="#0070C0"/>
<circle cx="566.3" cy="1257.9" r="3.6" fill="#ED7D31"/>
<circle cx="572.1" cy="1258.4" r="3.6" fill="#0070C0"/>
<circle cx="578.3" cy="1255.7" r="3.6" fill="#0070C0"/>
<circle cx="582.8" cy="1256.6" r="3.6" fill="#0070C0"/>
<circle cx="555.6" cy="1263.7" r="3.6" fill="#767676"/>
<circle cx="560.3" cy="1264.2" r="3.6" fill="#7030A0"/>
<circle cx="556.5" cy="1267.3" r="3.6" fill="#767676"/>
<circle cx="569.4" cy="1261.9" r="3.6" fill="#0070C0"/>
<circle cx="563.6" cy="1270.4" r="3.6" fill="#0070C0"/>
<circle cx="572.6" cy="1268.6" r="3.6" fill="#0070C0"/>
<circle cx="575.7" cy="1262.8" r="3.6" fill="#767676"/>
<circle cx="583.2" cy="1263.7" r="3.6" fill="#70AD47"/>
<circle cx="581.0" cy="1269.1" r="3.6" fill="#767676"/>
<circle cx="584.6" cy="1273.5" r="3.6" fill="#7030A0"/>
<circle cx="564.1" cy="1275.3" r="3.6" fill="#70AD47"/>
<circle cx="567.6" cy="1279.3" r="3.6" fill="#7030A0"/>
<circle cx="576.6" cy="1279.3" r="3.6" fill="#70AD47"/>
<circle cx="571.2" cy="1284.6" r="3.6" fill="#70AD47"/>
<circle cx="576.1" cy="1284.2" r="3.6" fill="#70AD47"/>
<circle cx="577.0" cy="1291.3" r="3.6" fill="#0070C0"/>
<circle cx="567.6" cy="1290.4" r="3.6" fill="#767676"/>
<circle cx="575.5" cy="1298.5" r="3.6" fill="#0070C0"/>
<circle cx="492.8" cy="1278.9" r="3.6" fill="#0070C0"/>
<circle cx="494.2" cy="1280.6" r="3.6" fill="#ED7D31"/>
<circle cx="512.4" cy="1278.0" r="3.6" fill="#70AD47"/>
<circle cx="526.2" cy="1285.5" r="3.6" fill="#70AD47"/>
<circle cx="531.1" cy="1283.8" r="3.6" fill="#70AD47"/>
<circle cx="536.9" cy="1281.5" r="3.6" fill="#70AD47"/>
<circle cx="550.7" cy="1284.6" r="3.6" fill="#0070C0"/>
<circle cx="554.1" cy="1289.5" r="3.6" fill="#ED7D31"/>
<circle cx="547.9" cy="1291.8" r="3.6" fill="#767676"/>
<circle cx="489.5" cy="1294.0" r="3.6" fill="#7030A0"/>
<circle cx="495.9" cy="1292.7" r="3.6" fill="#767676"/>
<circle cx="519.1" cy="1292.2" r="3.6" fill="#0070C0"/>
<circle cx="517.8" cy="1296.2" r="3.6" fill="#767676"/>
<circle cx="532.7" cy="1293.1" r="3.6" fill="#767676"/>
<circle cx="534.2" cy="1294.9" r="3.6" fill="#70AD47"/>
<circle cx="534.2" cy="1299.8" r="3.6" fill="#767676"/>
<circle cx="509.3" cy="1303.4" r="3.6" fill="#70AD47"/>
<circle cx="523.8" cy="1303.4" r="3.6" fill="#70AD47"/>
<circle cx="533.4" cy="1305.6" r="3.6" fill="#7030A0"/>
<circle cx="538.3" cy="1306.9" r="3.6" fill="#7030A0"/>
<circle cx="544.3" cy="1305.1" r="3.6" fill="#767676"/>
<circle cx="533.8" cy="1311.8" r="3.6" fill="#767676"/>
<circle cx="540.2" cy="1315.4" r="3.6" fill="#0070C0"/>
<circle cx="556.5" cy="1306.9" r="3.6" fill="#767676"/>
<circle cx="559.8" cy="1305.1" r="3.6" fill="#70AD47"/>
<circle cx="567.2" cy="1302.5" r="3.6" fill="#767676"/>
<circle cx="572.6" cy="1308.3" r="3.6" fill="#7030A0"/>
<circle cx="569.6" cy="1316.3" r="3.6" fill="#767676"/>
<circle cx="506.2" cy="1323.6" r="3.6" fill="#767676"/>
<circle cx="518.7" cy="1318.9" r="3.6" fill="#767676"/>
<circle cx="514.0" cy="1322.5" r="3.6" fill="#0070C0"/>
<circle cx="519.5" cy="1327.9" r="3.6" fill="#70AD47"/>
<circle cx="524.3" cy="1333.5" r="3.6" fill="#0070C0"/>
<circle cx="559.5" cy="1322.3" r="3.6" fill="#ED7D31"/>
<circle cx="549.2" cy="1326.1" r="3.6" fill="#ED7D31"/>
<circle cx="492.4" cy="1337.7" r="3.6" fill="#70AD47"/>
<circle cx="489.3" cy="1345.7" r="3.6" fill="#0070C0"/>
<circle cx="506.2" cy="1347.0" r="3.6" fill="#0070C0"/>
<circle cx="512.2" cy="1353.0" r="3.6" fill="#0070C0"/>
<circle cx="504.8" cy="1358.0" r="3.6" fill="#0070C0"/>
<circle cx="514.2" cy="1361.0" r="3.6" fill="#70AD47"/>
<circle cx="535.6" cy="1341.7" r="3.6" fill="#ED7D31"/>
<circle cx="545.8" cy="1352.4" r="3.6" fill="#70AD47"/>
<circle cx="550.7" cy="1358.6" r="3.6" fill="#7030A0"/>
<circle cx="562.7" cy="1339.4" r="3.6" fill="#767676"/>
<circle cx="567.2" cy="1334.8" r="3.6" fill="#70AD47"/>
<circle cx="574.5" cy="1254.5" r="3.6" fill="#0070C0"/>
<circle cx="580.5" cy="1260.0" r="3.6" fill="#0070C0"/>
<circle cx="568.0" cy="1255.5" r="3.6" fill="#0070C0"/>
<circle cx="584.0" cy="1258.5" r="3.6" fill="#70AD47"/>
<circle cx="551.5" cy="1256.0" r="3.6" fill="#0070C0"/>
<circle cx="271.6" cy="1419.7" r="3.6" fill="#0070C0"/>
<circle cx="300.3" cy="1422.0" r="3.6" fill="#767676"/>
<circle cx="260.5" cy="1431.2" r="3.6" fill="#767676"/>
<circle cx="286.1" cy="1433.4" r="3.6" fill="#70AD47"/>
<circle cx="319.5" cy="1432.6" r="3.6" fill="#0070C0"/>
<circle cx="334.2" cy="1436.2" r="3.6" fill="#ED7D31"/>
<circle cx="245.1" cy="1437.3" r="3.6" fill="#70AD47"/>
<circle cx="333.7" cy="1445.1" r="3.6" fill="#70AD47"/>
<circle cx="331.4" cy="1452.9" r="3.6" fill="#70AD47"/>
<circle cx="216.7" cy="1452.9" r="3.6" fill="#0070C0"/>
<circle cx="262.1" cy="1457.0" r="3.6" fill="#0070C0"/>
<circle cx="288.3" cy="1458.3" r="3.6" fill="#ED7D31"/>
<circle cx="268.3" cy="1465.4" r="3.6" fill="#70AD47"/>
<circle cx="316.6" cy="1466.8" r="3.6" fill="#0070C0"/>
<circle cx="334.0" cy="1470.7" r="3.6" fill="#767676"/>
<circle cx="307.8" cy="1477.2" r="3.6" fill="#ED7D31"/>
<circle cx="187.2" cy="1480.5" r="3.6" fill="#0070C0"/>
<circle cx="231.2" cy="1479.6" r="3.6" fill="#0070C0"/>
<circle cx="292.8" cy="1494.1" r="3.6" fill="#767676"/>
<circle cx="248.3" cy="1498.8" r="3.6" fill="#0070C0"/>
<circle cx="320.9" cy="1499.5" r="3.6" fill="#767676"/>
<circle cx="298.0" cy="1502.7" r="3.6" fill="#0070C0"/>
<circle cx="241.6" cy="1504.4" r="3.6" fill="#70AD47"/>
<circle cx="296.1" cy="1511.0" r="3.6" fill="#ED7D31"/>
<circle cx="325.3" cy="1511.0" r="3.6" fill="#ED7D31"/>
<circle cx="295.6" cy="1517.3" r="3.6" fill="#ED7D31"/>
<circle cx="319.7" cy="1516.2" r="3.6" fill="#767676"/>
<circle cx="322.0" cy="1517.0" r="3.6" fill="#ED7D31"/>
<circle cx="220.6" cy="1522.2" r="3.6" fill="#ED7D31"/>
<circle cx="262.1" cy="1520.8" r="3.6" fill="#767676"/>
<circle cx="280.5" cy="1524.0" r="3.6" fill="#767676"/>
<circle cx="286.1" cy="1527.0" r="3.6" fill="#70AD47"/>
<circle cx="203.2" cy="1530.6" r="3.6" fill="#767676"/>
<circle cx="219.3" cy="1532.2" r="3.6" fill="#70AD47"/>
<circle cx="238.5" cy="1530.3" r="3.6" fill="#70AD47"/>
<circle cx="264.6" cy="1530.3" r="3.6" fill="#767676"/>
<circle cx="319.5" cy="1530.6" r="3.6" fill="#70AD47"/>
<circle cx="332.5" cy="1530.9" r="3.6" fill="#ED7D31"/>
<circle cx="200.4" cy="1538.9" r="3.6" fill="#0070C0"/>
<circle cx="206.2" cy="1540.9" r="3.6" fill="#ED7D31"/>
<circle cx="277.7" cy="1543.7" r="3.6" fill="#70AD47"/>
<circle cx="367.3" cy="1402.8" r="3.6" fill="#767676"/>
<circle cx="359.8" cy="1409.3" r="3.6" fill="#ED7D31"/>
<circle cx="358.1" cy="1413.7" r="3.6" fill="#7030A0"/>
<circle cx="381.2" cy="1408.4" r="3.6" fill="#767676"/>
<circle cx="399.9" cy="1408.6" r="3.6" fill="#0070C0"/>
<circle cx="372.3" cy="1413.4" r="3.6" fill="#0070C0"/>
<circle cx="369.5" cy="1416.2" r="3.6" fill="#70AD47"/>
<circle cx="377.9" cy="1418.9" r="3.6" fill="#767676"/>
<circle cx="378.4" cy="1420.6" r="3.6" fill="#ED7D31"/>
<circle cx="384.6" cy="1422.3" r="3.6" fill="#70AD47"/>
<circle cx="378.4" cy="1425.1" r="3.6" fill="#70AD47"/>
<circle cx="371.8" cy="1424.2" r="3.6" fill="#ED7D31"/>
<circle cx="392.4" cy="1424.2" r="3.6" fill="#ED7D31"/>
<circle cx="349.5" cy="1425.3" r="3.6" fill="#0070C0"/>
<circle cx="353.4" cy="1427.9" r="3.6" fill="#0070C0"/>
<circle cx="352.8" cy="1431.2" r="3.6" fill="#ED7D31"/>
<circle cx="371.8" cy="1430.9" r="3.6" fill="#0070C0"/>
<circle cx="387.9" cy="1427.3" r="3.6" fill="#70AD47"/>
<circle cx="391.2" cy="1430.1" r="3.6" fill="#0070C0"/>
<circle cx="396.8" cy="1431.2" r="3.6" fill="#7030A0"/>
<circle cx="395.7" cy="1432.9" r="3.6" fill="#70AD47"/>
<circle cx="404.4" cy="1430.1" r="3.6" fill="#767676"/>
<circle cx="402.9" cy="1434.0" r="3.6" fill="#ED7D31"/>
<circle cx="342.2" cy="1434.0" r="3.6" fill="#767676"/>
<circle cx="337.2" cy="1443.8" r="3.6" fill="#ED7D31"/>
<circle cx="369.0" cy="1439.5" r="3.6" fill="#70AD47"/>
<circle cx="376.2" cy="1440.1" r="3.6" fill="#7030A0"/>
<circle cx="380.1" cy="1440.1" r="3.6" fill="#70AD47"/>
<circle cx="384.6" cy="1439.0" r="3.6" fill="#767676"/>
<circle cx="389.6" cy="1438.4" r="3.6" fill="#7030A0"/>
<circle cx="392.4" cy="1439.5" r="3.6" fill="#767676"/>
<circle cx="403.5" cy="1438.4" r="3.6" fill="#ED7D31"/>
<circle cx="402.4" cy="1444.0" r="3.6" fill="#0070C0"/>
<circle cx="374.5" cy="1445.1" r="3.6" fill="#70AD47"/>
<circle cx="380.7" cy="1446.2" r="3.6" fill="#ED7D31"/>
<circle cx="389.0" cy="1445.7" r="3.6" fill="#70AD47"/>
<circle cx="397.9" cy="1447.3" r="3.6" fill="#ED7D31"/>
<circle cx="368.4" cy="1448.5" r="3.6" fill="#7030A0"/>
<circle cx="376.2" cy="1449.6" r="3.6" fill="#70AD47"/>
<circle cx="384.6" cy="1451.2" r="3.6" fill="#7030A0"/>
<circle cx="393.5" cy="1451.2" r="3.6" fill="#70AD47"/>
<circle cx="406.3" cy="1451.8" r="3.6" fill="#767676"/>
<circle cx="401.8" cy="1454.0" r="3.6" fill="#767676"/>
<circle cx="360.6" cy="1449.3" r="3.6" fill="#70AD47"/>
<circle cx="356.7" cy="1454.9" r="3.6" fill="#767676"/>
<circle cx="372.3" cy="1456.2" r="3.6" fill="#0070C0"/>
<circle cx="378.4" cy="1452.9" r="3.6" fill="#0070C0"/>
<circle cx="410.2" cy="1456.2" r="3.6" fill="#70AD47"/>
<circle cx="392.4" cy="1455.1" r="3.6" fill="#ED7D31"/>
<circle cx="396.8" cy="1458.7" r="3.6" fill="#767676"/>
<circle cx="406.8" cy="1460.1" r="3.6" fill="#70AD47"/>
<circle cx="381.8" cy="1460.9" r="3.6" fill="#0070C0"/>
<circle cx="386.2" cy="1460.7" r="3.6" fill="#70AD47"/>
<circle cx="340.2" cy="1460.9" r="3.6" fill="#ED7D31"/>
<circle cx="359.5" cy="1463.8" r="3.6" fill="#0070C0"/>
<circle cx="373.4" cy="1466.3" r="3.6" fill="#0070C0"/>
<circle cx="368.4" cy="1467.4" r="3.6" fill="#ED7D31"/>
<circle cx="379.9" cy="1466.0" r="3.6" fill="#ED7D31"/>
<circle cx="396.8" cy="1465.2" r="3.6" fill="#ED7D31"/>
<circle cx="393.5" cy="1467.4" r="3.6" fill="#0070C0"/>
<circle cx="409.3" cy="1468.7" r="3.6" fill="#70AD47"/>
<circle cx="341.1" cy="1471.6" r="3.6" fill="#70AD47"/>
<circle cx="353.4" cy="1471.3" r="3.6" fill="#ED7D31"/>
<circle cx="358.4" cy="1472.1" r="3.6" fill="#7030A0"/>
<circle cx="367.9" cy="1474.1" r="3.6" fill="#ED7D31"/>
<circle cx="372.3" cy="1474.3" r="3.6" fill="#70AD47"/>
<circle cx="382.3" cy="1473.5" r="3.6" fill="#767676"/>
<circle cx="389.2" cy="1473.0" r="3.6" fill="#767676"/>
<circle cx="383.2" cy="1479.1" r="3.6" fill="#767676"/>
<circle cx="384.3" cy="1483.0" r="3.6" fill="#ED7D31"/>
<circle cx="391.2" cy="1485.0" r="3.6" fill="#767676"/>
<circle cx="402.4" cy="1481.6" r="3.6" fill="#767676"/>
<circle cx="342.2" cy="1484.1" r="3.6" fill="#767676"/>
<circle cx="361.2" cy="1480.7" r="3.6" fill="#70AD47"/>
<circle cx="369.5" cy="1481.6" r="3.6" fill="#70AD47"/>
<circle cx="364.5" cy="1485.8" r="3.6" fill="#0070C0"/>
<circle cx="344.3" cy="1490.5" r="3.6" fill="#7030A0"/>
<circle cx="352.3" cy="1490.5" r="3.6" fill="#767676"/>
<circle cx="362.9" cy="1490.8" r="3.6" fill="#ED7D31"/>
<circle cx="363.4" cy="1494.4" r="3.6" fill="#0070C0"/>
<circle cx="416.3" cy="1487.4" r="3.6" fill="#ED7D31"/>
<circle cx="422.7" cy="1483.9" r="3.6" fill="#ED7D31"/>
<circle cx="431.3" cy="1483.9" r="3.6" fill="#767676"/>
<circle cx="407.1" cy="1492.1" r="3.6" fill="#70AD47"/>
<circle cx="418.5" cy="1494.1" r="3.6" fill="#7030A0"/>
<circle cx="384.3" cy="1495.8" r="3.6" fill="#70AD47"/>
<circle cx="386.6" cy="1496.9" r="3.6" fill="#767676"/>
<circle cx="347.8" cy="1500.6" r="3.6" fill="#70AD47"/>
<circle cx="352.8" cy="1499.7" r="3.6" fill="#0070C0"/>
<circle cx="359.0" cy="1498.8" r="3.6" fill="#70AD47"/>
<circle cx="365.9" cy="1499.1" r="3.6" fill="#7030A0"/>
<circle cx="372.1" cy="1501.9" r="3.6" fill="#767676"/>
<circle cx="395.5" cy="1501.3" r="3.6" fill="#767676"/>
<circle cx="428.9" cy="1506.4" r="3.6" fill="#767676"/>
<circle cx="348.7" cy="1508.8" r="3.6" fill="#ED7D31"/>
<circle cx="354.5" cy="1508.8" r="3.6" fill="#70AD47"/>
<circle cx="362.3" cy="1508.8" r="3.6" fill="#70AD47"/>
<circle cx="391.0" cy="1509.5" r="3.6" fill="#ED7D31"/>
<circle cx="351.7" cy="1514.2" r="3.6" fill="#ED7D31"/>
<circle cx="357.8" cy="1515.0" r="3.6" fill="#767676"/>
<circle cx="364.5" cy="1513.3" r="3.6" fill="#ED7D31"/>
<circle cx="357.3" cy="1520.3" r="3.6" fill="#ED7D31"/>
<circle cx="354.5" cy="1525.8" r="3.6" fill="#767676"/>
<circle cx="353.9" cy="1530.0" r="3.6" fill="#767676"/>
<circle cx="376.2" cy="1525.5" r="3.6" fill="#ED7D31"/>
<circle cx="377.9" cy="1527.3" r="3.6" fill="#0070C0"/>
<circle cx="348.0" cy="1533.3" r="3.6" fill="#7030A0"/>
<circle cx="408.2" cy="1538.9" r="3.6" fill="#ED7D31"/>
<circle cx="427.1" cy="1535.9" r="3.6" fill="#ED7D31"/>
<circle cx="464.5" cy="1533.6" r="3.6" fill="#ED7D31"/>
<circle cx="370.3" cy="1542.6" r="3.6" fill="#767676"/>
<circle cx="463.6" cy="1406.7" r="3.6" fill="#7030A0"/>
<circle cx="460.5" cy="1414.5" r="3.6" fill="#767676"/>
<circle cx="436.3" cy="1413.0" r="3.6" fill="#767676"/>
<circle cx="421.1" cy="1411.5" r="3.6" fill="#7030A0"/>
<circle cx="414.6" cy="1413.7" r="3.6" fill="#767676"/>
<circle cx="418.5" cy="1414.5" r="3.6" fill="#7030A0"/>
<circle cx="410.4" cy="1417.8" r="3.6" fill="#0070C0"/>
<circle cx="425.2" cy="1416.4" r="3.6" fill="#ED7D31"/>
<circle cx="416.3" cy="1418.4" r="3.6" fill="#767676"/>
<circle cx="420.2" cy="1422.8" r="3.6" fill="#70AD47"/>
<circle cx="429.1" cy="1424.8" r="3.6" fill="#70AD47"/>
<circle cx="421.3" cy="1428.4" r="3.6" fill="#ED7D31"/>
<circle cx="417.4" cy="1430.6" r="3.6" fill="#0070C0"/>
<circle cx="412.4" cy="1432.9" r="3.6" fill="#ED7D31"/>
<circle cx="426.3" cy="1434.2" r="3.6" fill="#ED7D31"/>
<circle cx="439.1" cy="1430.4" r="3.6" fill="#0070C0"/>
<circle cx="443.6" cy="1430.6" r="3.6" fill="#ED7D31"/>
<circle cx="454.5" cy="1432.6" r="3.6" fill="#ED7D31"/>
<circle cx="467.9" cy="1434.5" r="3.6" fill="#ED7D31"/>
<circle cx="438.9" cy="1450.5" r="3.6" fill="#7030A0"/>
<circle cx="463.1" cy="1449.6" r="3.6" fill="#ED7D31"/>
<circle cx="420.2" cy="1456.2" r="3.6" fill="#0070C0"/>
<circle cx="432.2" cy="1460.1" r="3.6" fill="#767676"/>
<circle cx="446.9" cy="1464.9" r="3.6" fill="#ED7D31"/>
<circle cx="490.5" cy="1386.5" r="3.6" fill="#0070C0"/>
<circle cx="515.9" cy="1377.8" r="3.6" fill="#ED7D31"/>
<circle cx="559.1" cy="1379.2" r="3.6" fill="#ED7D31"/>
<circle cx="553.7" cy="1383.3" r="3.6" fill="#7030A0"/>
<circle cx="494.1" cy="1398.1" r="3.6" fill="#767676"/>
<circle cx="511.9" cy="1396.3" r="3.6" fill="#ED7D31"/>
<circle cx="545.7" cy="1397.4" r="3.6" fill="#ED7D31"/>
<circle cx="524.5" cy="1424.3" r="3.6" fill="#ED7D31"/>
<circle cx="497.6" cy="1433.8" r="3.6" fill="#ED7D31"/>
<circle cx="550.0" cy="1445.7" r="3.6" fill="#70AD47"/>
<circle cx="507.9" cy="1457.1" r="3.6" fill="#767676"/>
<circle cx="517.7" cy="1467.6" r="3.6" fill="#ED7D31"/>
<circle cx="489.2" cy="1477.2" r="3.6" fill="#ED7D31"/>
<circle cx="555.1" cy="1478.0" r="3.6" fill="#ED7D31"/>
<circle cx="298.8" cy="1551.9" r="3.6" fill="#0070C0"/>
<circle cx="254.4" cy="1555.9" r="3.6" fill="#767676"/>
<circle cx="277.4" cy="1556.4" r="3.6" fill="#767676"/>
<circle cx="202.4" cy="1559.1" r="3.6" fill="#767676"/>
<circle cx="239.3" cy="1568.4" r="3.6" fill="#70AD47"/>
<circle cx="248.7" cy="1570.5" r="3.6" fill="#7030A0"/>
<circle cx="220.6" cy="1572.2" r="3.6" fill="#70AD47"/>
<circle cx="266.3" cy="1571.1" r="3.6" fill="#70AD47"/>
<circle cx="273.2" cy="1571.7" r="3.6" fill="#ED7D31"/>
<circle cx="300.8" cy="1572.9" r="3.6" fill="#0070C0"/>
<circle cx="230.7" cy="1577.9" r="3.6" fill="#70AD47"/>
<circle cx="217.0" cy="1580.9" r="3.6" fill="#ED7D31"/>
<circle cx="206.0" cy="1584.4" r="3.6" fill="#ED7D31"/>
<circle cx="250.5" cy="1583.6" r="3.6" fill="#ED7D31"/>
<circle cx="284.6" cy="1583.6" r="3.6" fill="#767676"/>
<circle cx="243.2" cy="1589.3" r="3.6" fill="#0070C0"/>
<circle cx="232.7" cy="1591.3" r="3.6" fill="#ED7D31"/>
<circle cx="252.9" cy="1591.3" r="3.6" fill="#0070C0"/>
<circle cx="284.6" cy="1591.1" r="3.6" fill="#0070C0"/>
<circle cx="206.3" cy="1595.4" r="3.6" fill="#767676"/>
<circle cx="225.6" cy="1596.0" r="3.6" fill="#767676"/>
<circle cx="256.5" cy="1596.5" r="3.6" fill="#7030A0"/>
<circle cx="266.0" cy="1595.4" r="3.6" fill="#767676"/>
<circle cx="274.8" cy="1598.3" r="3.6" fill="#767676"/>
<circle cx="258.1" cy="1603.4" r="3.6" fill="#ED7D31"/>
<circle cx="214.4" cy="1606.7" r="3.6" fill="#767676"/>
<circle cx="213.5" cy="1609.8" r="3.6" fill="#70AD47"/>
<circle cx="228.6" cy="1610.7" r="3.6" fill="#ED7D31"/>
<circle cx="204.4" cy="1613.0" r="3.6" fill="#0070C0"/>
<circle cx="214.0" cy="1614.5" r="3.6" fill="#7030A0"/>
<circle cx="235.7" cy="1615.2" r="3.6" fill="#767676"/>
<circle cx="240.5" cy="1613.6" r="3.6" fill="#767676"/>
<circle cx="193.7" cy="1617.0" r="3.6" fill="#767676"/>
<circle cx="276.4" cy="1620.3" r="3.6" fill="#0070C0"/>
<circle cx="189.4" cy="1621.0" r="3.6" fill="#0070C0"/>
<circle cx="198.3" cy="1621.4" r="3.6" fill="#767676"/>
<circle cx="250.0" cy="1622.5" r="3.6" fill="#767676"/>
<circle cx="237.8" cy="1623.6" r="3.6" fill="#7030A0"/>
<circle cx="209.3" cy="1622.8" r="3.6" fill="#ED7D31"/>
<circle cx="207.2" cy="1623.6" r="3.6" fill="#70AD47"/>
<circle cx="219.1" cy="1627.2" r="3.6" fill="#767676"/>
<circle cx="195.5" cy="1628.1" r="3.6" fill="#70AD47"/>
<circle cx="211.1" cy="1628.5" r="3.6" fill="#7030A0"/>
<circle cx="202.4" cy="1630.5" r="3.6" fill="#0070C0"/>
<circle cx="218.5" cy="1633.4" r="3.6" fill="#767676"/>
<circle cx="210.8" cy="1634.8" r="3.6" fill="#767676"/>
<circle cx="241.4" cy="1636.6" r="3.6" fill="#70AD47"/>
<circle cx="246.1" cy="1635.5" r="3.6" fill="#ED7D31"/>
<circle cx="250.3" cy="1634.1" r="3.6" fill="#70AD47"/>
<circle cx="255.0" cy="1635.2" r="3.6" fill="#70AD47"/>
<circle cx="260.1" cy="1634.6" r="3.6" fill="#0070C0"/>
<circle cx="188.3" cy="1638.3" r="3.6" fill="#767676"/>
<circle cx="195.9" cy="1637.0" r="3.6" fill="#0070C0"/>
<circle cx="204.4" cy="1636.6" r="3.6" fill="#7030A0"/>
<circle cx="204.4" cy="1640.1" r="3.6" fill="#0070C0"/>
<circle cx="214.4" cy="1640.6" r="3.6" fill="#70AD47"/>
<circle cx="271.2" cy="1641.5" r="3.6" fill="#ED7D31"/>
<circle cx="195.5" cy="1643.2" r="3.6" fill="#0070C0"/>
<circle cx="231.8" cy="1643.2" r="3.6" fill="#0070C0"/>
<circle cx="253.8" cy="1644.8" r="3.6" fill="#0070C0"/>
<circle cx="213.1" cy="1646.2" r="3.6" fill="#7030A0"/>
<circle cx="222.2" cy="1645.0" r="3.6" fill="#70AD47"/>
<circle cx="223.5" cy="1648.0" r="3.6" fill="#0070C0"/>
<circle cx="200.8" cy="1648.6" r="3.6" fill="#0070C0"/>
<circle cx="207.1" cy="1649.5" r="3.6" fill="#0070C0"/>
<circle cx="217.7" cy="1649.9" r="3.6" fill="#0070C0"/>
<circle cx="227.5" cy="1650.8" r="3.6" fill="#ED7D31"/>
<circle cx="240.7" cy="1650.4" r="3.6" fill="#0070C0"/>
<circle cx="189.2" cy="1647.2" r="3.6" fill="#70AD47"/>
<circle cx="193.2" cy="1649.9" r="3.6" fill="#0070C0"/>
<circle cx="229.8" cy="1645.5" r="3.6" fill="#70AD47"/>
<circle cx="199.0" cy="1645.0" r="3.6" fill="#0070C0"/>
<circle cx="211.0" cy="1645.5" r="3.6" fill="#0070C0"/>
<circle cx="192.5" cy="1644.0" r="3.6" fill="#7030A0"/>
<circle cx="192.0" cy="1641.0" r="3.6" fill="#767676"/>
<circle cx="326.5" cy="1549.7" r="3.6" fill="#767676"/>
<circle cx="326.7" cy="1557.3" r="3.6" fill="#767676"/>
<circle cx="353.5" cy="1551.2" r="3.6" fill="#0070C0"/>
<circle cx="370.2" cy="1549.7" r="3.6" fill="#0070C0"/>
<circle cx="404.2" cy="1550.1" r="3.6" fill="#0070C0"/>
<circle cx="317.8" cy="1560.1" r="3.6" fill="#0070C0"/>
<circle cx="338.5" cy="1568.0" r="3.6" fill="#70AD47"/>
<circle cx="351.8" cy="1566.2" r="3.6" fill="#70AD47"/>
<circle cx="357.5" cy="1569.0" r="3.6" fill="#767676"/>
<circle cx="319.2" cy="1576.2" r="3.6" fill="#70AD47"/>
<circle cx="341.0" cy="1574.2" r="3.6" fill="#ED7D31"/>
<circle cx="339.6" cy="1580.3" r="3.6" fill="#0070C0"/>
<circle cx="343.2" cy="1582.7" r="3.6" fill="#ED7D31"/>
<circle cx="419.4" cy="1582.7" r="3.6" fill="#ED7D31"/>
<circle cx="319.6" cy="1586.5" r="3.6" fill="#70AD47"/>
<circle cx="346.3" cy="1589.8" r="3.6" fill="#ED7D31"/>
<circle cx="310.5" cy="1594.2" r="3.6" fill="#0070C0"/>
<circle cx="319.2" cy="1596.5" r="3.6" fill="#0070C0"/>
<circle cx="314.4" cy="1613.8" r="3.6" fill="#767676"/>
<circle cx="380.9" cy="1621.2" r="3.6" fill="#0070C0"/>
<circle cx="371.1" cy="1625.7" r="3.6" fill="#0070C0"/>
<circle cx="401.6" cy="1623.0" r="3.6" fill="#ED7D31"/>
<circle cx="524.6" cy="1488.4" r="3.6" fill="#767676"/>
<circle cx="492.2" cy="1513.1" r="3.6" fill="#0070C0"/>
<circle cx="423.4" cy="1577.2" r="3.6" fill="#0070C0"/>
<circle cx="449.1" cy="1577.9" r="3.6" fill="#ED7D31"/>
<circle cx="443.5" cy="1586.6" r="3.6" fill="#0070C0"/>
<circle cx="488.9" cy="1582.6" r="3.6" fill="#70AD47"/>
<circle cx="478.5" cy="1595.0" r="3.6" fill="#7030A0"/>
</g>
</g>
<line x1="185.6" y1="1652.9" x2="586.3" y2="1252.5" stroke="#231F20" stroke-width="2.7" stroke-dasharray="5.5 4.7"/>
<rect x="185.6" y="1252.5" width="400.70" height="400.40" fill="none" stroke="#231F20" stroke-width="3"/>
<text x="173.50" y="1257.30" font-size="23" fill="#231F20" color="#231F20" text-anchor="end" font-weight="normal" font-style="normal" >100</text>
<text x="174.50" y="1655.20" font-size="23" fill="#231F20" color="#231F20" text-anchor="end" font-weight="normal" font-style="normal" >0</text>
<text x="184.30" y="1682.40" font-size="23" fill="#231F20" color="#231F20" text-anchor="middle" font-weight="normal" font-style="normal" >0</text>
<text x="573.20" y="1682.40" font-size="23" fill="#231F20" color="#231F20" text-anchor="start" font-weight="normal" font-style="normal" >100</text>
<text x="196.00" y="1713.20" font-size="25.3" fill="#231F20" color="#231F20" text-anchor="start" font-weight="normal" font-style="normal" >Allelic ratio (% Cast) in NPC clone</text>
<text transform="translate(128.7,1449.4) rotate(-90)" x="0" y="0" font-size="25.3" fill="#231F20" text-anchor="middle">Allelic ratio (%Cast) in astrocytes</text>
<text x="198.50" y="1277.50" font-size="20" fill="#7030A0" color="#7030A0" text-anchor="start" font-weight="normal" font-style="normal" >R² = 0.95</text>
<text x="198.50" y="1301.60" font-size="20" fill="#ED7D31" color="#ED7D31" text-anchor="start" font-weight="normal" font-style="normal" >R² = 0.73</text>
<text x="198.50" y="1325.70" font-size="20" fill="#0070C0" color="#0070C0" text-anchor="start" font-weight="normal" font-style="normal" >R² = 0.79</text>
<text x="198.50" y="1349.80" font-size="20" fill="#767676" color="#767676" text-anchor="start" font-weight="normal" font-style="normal" >R² = 0.89</text>
<text x="198.50" y="1373.90" font-size="20" fill="#70AD47" color="#70AD47" text-anchor="start" font-weight="normal" font-style="normal" >R² = 0.86</text>
<text x="276.00" y="1767.80" font-size="25.5" fill="#231F20" color="#231F20" text-anchor="start" font-weight="normal" font-style="normal" >NPC clone:</text>
<circle cx="430.3" cy="1757.80" r="5.5" fill="#9B6EBE"/>
<text x="449.50" y="1764.50" font-size="24.5" fill="#231F20" color="#231F20" text-anchor="start" font-weight="normal" font-style="normal" >XX1</text>
<circle cx="430.3" cy="1784.80" r="5.5" fill="#F0A56E"/>
<text x="449.50" y="1791.50" font-size="24.5" fill="#231F20" color="#231F20" text-anchor="start" font-weight="normal" font-style="normal" >XX2</text>
<circle cx="430.3" cy="1811.80" r="5.5" fill="#4B9BD7"/>
<text x="449.50" y="1818.50" font-size="24.5" fill="#231F20" color="#231F20" text-anchor="start" font-weight="normal" font-style="normal" >XX3</text>
<circle cx="430.3" cy="1838.80" r="5.5" fill="#A5A5A5"/>
<text x="449.50" y="1845.50" font-size="24.5" fill="#231F20" color="#231F20" text-anchor="start" font-weight="normal" font-style="normal" >XY1</text>
<circle cx="430.3" cy="1865.80" r="5.5" fill="#96C37D"/>
<text x="449.50" y="1872.50" font-size="24.5" fill="#231F20" color="#231F20" text-anchor="start" font-weight="normal" font-style="normal" >XY2</text>
<text x="820.00" y="1197.00" font-size="60" fill="#231F20" color="#231F20" text-anchor="start" font-weight="normal" font-style="normal" >c</text>
<rect x="899.5" y="1252.8" width="406.60" height="400.30" fill="none" stroke="#231F20" stroke-width="2.5"/>
<line x1="899.5" y1="1653.1" x2="1306.1" y2="1252.8" stroke="#231F20" stroke-width="2.4" stroke-dasharray="5.4 4.5"/>
<circle cx="902.9" cy="1653.1" r="7.4" fill="#FFC71E" fill-opacity="0.8"/>
<circle cx="1302" cy="1253" r="7.4" fill="#FFC71E" fill-opacity="0.8"/>
<circle cx="900.1" cy="1651.5" r="7.4" fill="#566679" fill-opacity="0.8"/>
<circle cx="1192.9" cy="1309.8" r="7.4" fill="#6FA5DD" fill-opacity="0.8"/>
<circle cx="1236.4" cy="1295.7" r="7.4" fill="#6FA5DD" fill-opacity="0.8"/>
<circle cx="903.2" cy="1620.5" r="7.4" fill="#6FA5DD" fill-opacity="0.8"/>
<circle cx="907.3" cy="1639.2" r="7.4" fill="#EC8844" fill-opacity="0.8"/>
<circle cx="1109.5" cy="1394.4" r="7.4" fill="#FFC71E" fill-opacity="0.8"/>
<circle cx="1089.1" cy="1414.4" r="7.4" fill="#FFC71E" fill-opacity="0.8"/>
<circle cx="1094.7" cy="1421.4" r="7.4" fill="#FFC71E" fill-opacity="0.8"/>
<circle cx="1241.4" cy="1270.7" r="7.4" fill="#7EB55E" fill-opacity="0.8"/>
<circle cx="1267.5" cy="1286.1" r="7.4" fill="#7EB55E" fill-opacity="0.8"/>
<circle cx="1194.7" cy="1331.2" r="7.4" fill="#7EB55E" fill-opacity="0.8"/>
<circle cx="1111.5" cy="1450.1" r="7.4" fill="#7EB55E" fill-opacity="0.8"/>
<circle cx="1084.2" cy="1501.7" r="7.4" fill="#7EB55E" fill-opacity="0.8"/>
<circle cx="972.8" cy="1603.3" r="7.4" fill="#7C44AE" fill-opacity="0.8"/>
<circle cx="964.6" cy="1622.1" r="7.4" fill="#7C44AE" fill-opacity="0.8"/>
<circle cx="964.6" cy="1634.3" r="7.4" fill="#7C44AE" fill-opacity="0.8"/>
<circle cx="974.7" cy="1634.3" r="7.4" fill="#7C44AE" fill-opacity="0.8"/>
<circle cx="1274.5" cy="1263.5" r="7.4" fill="#566679" fill-opacity="0.8"/>
<circle cx="1077.4" cy="1449.1" r="7.4" fill="#566679" fill-opacity="0.8"/>
<circle cx="1140.2" cy="1483.6" r="7.4" fill="#566679" fill-opacity="0.8"/>
<circle cx="1026.2" cy="1594.3" r="7.4" fill="#566679" fill-opacity="0.8"/>
<circle cx="1295.9" cy="1291.1" r="7.4" fill="#88711E" fill-opacity="0.8"/>
<circle cx="969.0" cy="1555.6" r="7.4" fill="#88711E" fill-opacity="0.8"/>
<circle cx="931.1" cy="1580.8" r="7.4" fill="#88711E" fill-opacity="0.8"/>
<circle cx="916.4" cy="1631.1" r="7.4" fill="#88711E" fill-opacity="0.8"/>
<circle cx="920.8" cy="1644.1" r="7.4" fill="#F31111" fill-opacity="0.8"/>
<circle cx="1305.5" cy="1253.7" r="7.4" fill="#F31111" fill-opacity="0.8"/>
<line x1="899.5" y1="1653.1" x2="1306.1" y2="1252.8" stroke="#231F20" stroke-width="2.4" stroke-dasharray="5.4 4.5"/>
<text x="914.80" y="1282.80" font-size="20" fill="#231F20" color="#231F20" text-anchor="start" font-weight="normal" font-style="normal" >R² = 0.95</text>
<text x="887.20" y="1257.20" font-size="23" fill="#231F20" color="#231F20" text-anchor="end" font-weight="normal" font-style="normal" >100</text>
<text x="888.20" y="1655.60" font-size="23" fill="#231F20" color="#231F20" text-anchor="end" font-weight="normal" font-style="normal" >0</text>
<text x="898.00" y="1682.30" font-size="23" fill="#231F20" color="#231F20" text-anchor="middle" font-weight="normal" font-style="normal" >0</text>
<text x="1287.00" y="1682.40" font-size="23" fill="#231F20" color="#231F20" text-anchor="start" font-weight="normal" font-style="normal" >100</text>
<text x="910.30" y="1713.20" font-size="25.3" fill="#231F20" color="#231F20" text-anchor="start" font-weight="normal" font-style="normal" >Allelic ratio (% Cast) in NPC clone</text>
<text transform="translate(842.5,1449.4) rotate(-90)" x="0" y="0" font-size="25.3" fill="#231F20" text-anchor="middle">Allelic ratio (%Cast) in astrocytes</text>
<circle cx="927.1" cy="1760.80" r="8.5" fill="#6FA5DD" fill-opacity="0.8"/>
<text x="945.50" y="1765.30" font-size="24.5" fill="#231F20" color="#231F20" text-anchor="start" font-weight="normal" font-style="italic" >A2m</text>
<circle cx="927.1" cy="1797.80" r="8.5" fill="#EC8844" fill-opacity="0.8"/>
<text x="945.50" y="1802.10" font-size="24.5" fill="#231F20" color="#231F20" text-anchor="start" font-weight="normal" font-style="italic" >Acyp2</text>
<circle cx="927.1" cy="1834.80" r="8.5" fill="#FFC71E" fill-opacity="0.8"/>
<text x="945.50" y="1838.90" font-size="24.5" fill="#231F20" color="#231F20" text-anchor="start" font-weight="normal" font-style="italic" >Bag3</text>
<circle cx="1054.9" cy="1760.80" r="8.5" fill="#F31111" fill-opacity="0.8"/>
<text x="1073.50" y="1765.30" font-size="24.5" fill="#231F20" color="#231F20" text-anchor="start" font-weight="normal" font-style="italic" >Cnrip1</text>
<circle cx="1054.9" cy="1797.80" r="8.5" fill="#7EB55E" fill-opacity="0.8"/>
<text x="1073.50" y="1802.10" font-size="24.5" fill="#231F20" color="#231F20" text-anchor="start" font-weight="normal" font-style="italic" >Eya1</text>
<circle cx="1054.9" cy="1834.80" r="8.5" fill="#7C44AE" fill-opacity="0.8"/>
<text x="1073.50" y="1838.90" font-size="24.5" fill="#231F20" color="#231F20" text-anchor="start" font-weight="normal" font-style="italic" >Eya2</text>
<circle cx="1182.9" cy="1760.80" r="8.5" fill="#566679" fill-opacity="0.8"/>
<text x="1201.50" y="1765.30" font-size="24.5" fill="#231F20" color="#231F20" text-anchor="start" font-weight="normal" font-style="italic" >Eya4</text>
<circle cx="1182.9" cy="1797.80" r="8.5" fill="#88711E" fill-opacity="0.8"/>
<text x="1201.50" y="1802.10" font-size="24.5" fill="#231F20" color="#231F20" text-anchor="start" font-weight="normal" font-style="italic" >Grik2</text>
<circle cx="1182.9" cy="1834.80" r="8.5" fill="#EC3D88" fill-opacity="0.8"/>
<text x="1201.50" y="1838.90" font-size="24.5" fill="#231F20" color="#231F20" text-anchor="start" font-weight="normal" font-style="italic" >Kcnq2</text>
</svg></body></html>
